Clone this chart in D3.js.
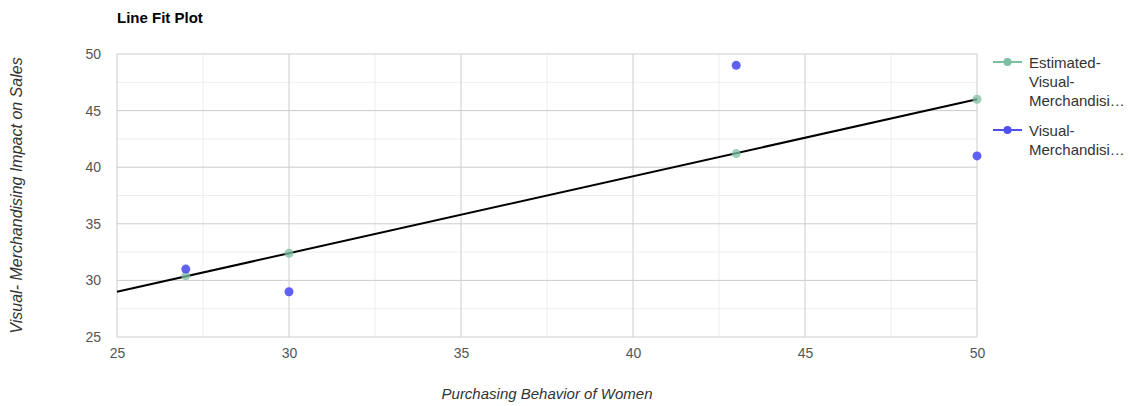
<!DOCTYPE html>
<html><head><meta charset="utf-8">
<script src="https://cdn.jsdelivr.net/npm/d3@7"></script>
<style>body{margin:0;background:#fff;font-family:Arial,"Liberation Sans",sans-serif;}</style>
</head><body><svg id="c" width="1130" height="406"></svg>
<script>
const xValues = [27, 30, 43, 50];
const actualValues = [31, 29, 49, 41];
const estimatedValues = [30.4, 32.4, 41.2, 46.0];
const trendX = [25, 50];
const trendY = [29.0, 46.0];
const xTicks = [25, 30, 35, 40, 45, 50];
const yTicks = [25, 30, 35, 40, 45, 50];
const seriesNames = ["Estimated-Visual-Merchandisi…", "Visual-Merchandisi…"];

const svg = d3.select("#c");
const FF = "Arial,'Liberation Sans',sans-serif";
const m = {l:117, r:977, t:54, b:337};
const x = d3.scaleLinear().domain([25,50]).range([m.l,m.r]);
const y = d3.scaleLinear().domain([25,50]).range([m.b,m.t]);

// minor grid
const minor = d3.range(27.5, 50, 5);
svg.append("g").selectAll("line").data(minor).join("line")
  .attr("x1",d=>x(d)).attr("x2",d=>x(d)).attr("y1",m.t).attr("y2",m.b).attr("stroke","#eeeeee");
svg.append("g").selectAll("line").data(minor).join("line")
  .attr("y1",d=>y(d)).attr("y2",d=>y(d)).attr("x1",m.l).attr("x2",m.r).attr("stroke","#eeeeee");
// major grid
svg.append("g").selectAll("line").data(xTicks).join("line")
  .attr("x1",d=>x(d)).attr("x2",d=>x(d)).attr("y1",m.t).attr("y2",m.b).attr("stroke","#cccccc");
svg.append("g").selectAll("line").data(yTicks).join("line")
  .attr("y1",d=>y(d)).attr("y2",d=>y(d)).attr("x1",m.l).attr("x2",m.r).attr("stroke","#cccccc");

// axes
const xa = svg.append("g").attr("transform",`translate(0,${m.b})`)
  .call(d3.axisBottom(x).tickValues(xTicks).tickSize(0).tickPadding(11));
xa.select(".domain").remove();
xa.selectAll("text").attr("fill","#555").style("font-size","14px").style("font-family",FF);
const ya = svg.append("g").attr("transform",`translate(${m.l},0)`)
  .call(d3.axisLeft(y).tickValues(yTicks).tickSize(0).tickPadding(16));
ya.select(".domain").remove();
ya.selectAll("text").attr("fill","#555").style("font-size","14px").style("font-family",FF);

// title & axis titles
svg.append("text").attr("x",117).attr("y",23).text("Line Fit Plot")
  .style("font-weight","bold").style("font-size","15px").style("font-family",FF).attr("fill","#000");
svg.append("text").attr("x",(m.l+m.r)/2).attr("y",399).attr("text-anchor","middle")
  .style("font-style","italic").style("font-size","15px").style("font-family",FF).attr("fill","#333").text("Purchasing Behavior of Women");
svg.append("text").attr("transform",`translate(22,${(m.t+m.b)/2}) rotate(-90)`).attr("text-anchor","middle")
  .style("font-style","italic").style("font-size","16px").style("font-family",FF).attr("fill","#333").text("Visual- Merchandising Impact on Sales");

// trend line
svg.append("line").attr("x1",x(trendX[0])).attr("y1",y(trendY[0])).attr("x2",x(trendX[1])).attr("y2",y(trendY[1]))
  .attr("stroke","#000").attr("stroke-width",2);

const estColor = "#7cbfa3", actColor = "#4f4ff0";
// estimated points
svg.append("g").selectAll("circle").data(xValues).join("circle")
  .attr("cx",d=>x(d)).attr("cy",(d,i)=>y(estimatedValues[i])).attr("r",4.5)
  .attr("fill",estColor).attr("fill-opacity",0.75);
// actual points
svg.append("g").selectAll("circle").data(xValues).join("circle")
  .attr("cx",d=>x(d)).attr("cy",(d,i)=>y(actualValues[i])).attr("r",4.5)
  .attr("fill",actColor).attr("fill-opacity",0.9);

// legend
const leg = [
  {c:estColor, y:62, lines:["Estimated-","Visual-","Merchandisi…"]},
  {c:actColor, y:130, lines:["Visual-","Merchandisi…"]}
];
leg.forEach(L=>{
  const g = svg.append("g");
  g.append("line").attr("x1",993).attr("x2",1022).attr("y1",L.y).attr("y2",L.y).attr("stroke",L.c).attr("stroke-width",2);
  g.append("circle").attr("cx",1007.5).attr("cy",L.y).attr("r",4).attr("fill",L.c);
  L.lines.forEach((t,i)=>{
    g.append("text").attr("x",1029).attr("y",L.y+5.5+i*19).text(t)
      .style("font-size","15px").style("font-family",FF).attr("fill","#333");
  });
});
</script></body></html>
